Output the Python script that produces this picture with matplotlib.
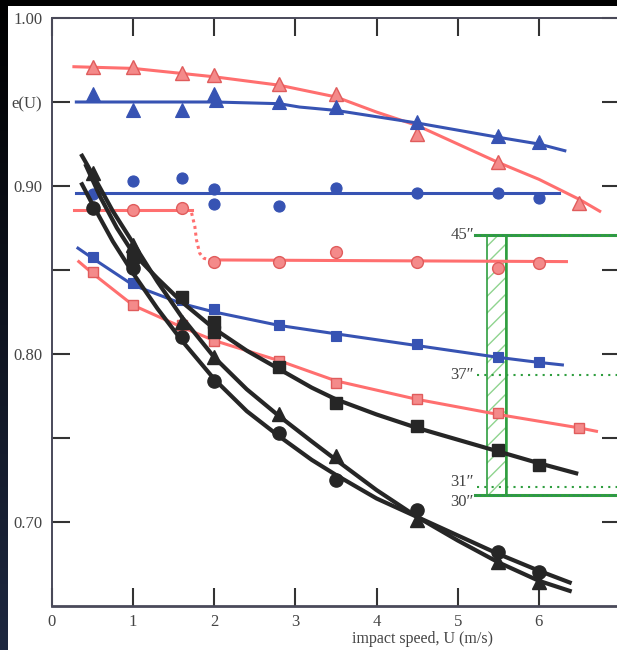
"""Restitution coefficient e(U) versus impact speed for several ball/surface sets."""

import matplotlib.pyplot as plt
import numpy as np
from matplotlib.patches import Rectangle

plt.rcParams["font.family"] = ["Liberation Serif", "DejaVu Serif"]

# measured points: impact speed (m/s) and e(U)
u_std = [0.5, 1.0, 1.6, 2.0, 2.8, 3.5, 4.5, 5.5, 6.0]
u_long = [0.5, 1.0, 1.6, 2.0, 2.8, 3.5, 4.5, 5.5, 6.5]

red_tri = [0.971, 0.971, 0.967, 0.966, 0.961, 0.955, 0.931, 0.914, 0.890]
blue_tri_u = [0.5, 1.0, 1.6, 2.0, 2.02, 2.8, 3.5, 4.5, 5.5, 6.0]
blue_tri = [0.955, 0.945, 0.945, 0.955, 0.951, 0.950, 0.947, 0.938, 0.930, 0.926]
blue_circ_u = [0.5, 1.0, 1.6, 2.0, 2.0, 2.8, 3.5, 4.5, 5.5, 6.0]
blue_circ = [0.895, 0.903, 0.905, 0.898, 0.889, 0.888, 0.899, 0.896, 0.896, 0.893]
red_circ = [0.887, 0.886, 0.887, 0.855, 0.855, 0.861, 0.855, 0.851, 0.854]
blue_sq = [0.858, 0.842, 0.832, 0.827, 0.817, 0.811, 0.806, 0.798, 0.795]
red_sq = [0.849, 0.829, 0.817, 0.808, 0.796, 0.783, 0.773, 0.765, 0.756]
black_sq_u = [1.0, 1.6, 2.0, 2.0, 2.8, 3.5, 4.5, 5.5, 6.0]
black_sq = [0.858, 0.834, 0.819, 0.813, 0.792, 0.771, 0.757, 0.743, 0.734]
black_tri = [0.908, 0.865, 0.819, 0.798, 0.764, 0.739, 0.701, 0.676, 0.664]
black_circ = [0.887, 0.851, 0.810, 0.784, 0.753, 0.725, 0.707, 0.682, 0.670]

# fitted curves, sampled along each trace
fit_red_tri_u = [0.27, 1.0, 2.0, 2.8, 3.5, 4.0, 4.5, 5.0, 5.5, 6.0, 6.5, 6.75]
fit_red_tri = [0.971, 0.970, 0.965, 0.960, 0.953, 0.944, 0.936, 0.925, 0.914, 0.904, 0.892, 0.885]
fit_blue_tri_u = [0.3, 1.0, 2.0, 2.8, 3.05, 3.5, 4.5, 5.5, 6.0, 6.32]
fit_blue_tri = [0.950, 0.950, 0.950, 0.949, 0.947, 0.945, 0.9375, 0.929, 0.925, 0.921]
fit_blue_circ_u = [0.3, 6.25]
fit_blue_circ = [0.896, 0.896]
fit_red_circ_hi_u = [0.27, 1.72]
fit_red_circ_hi = [0.886, 0.886]
fit_red_circ_step_u = [1.72, 1.76, 1.78, 1.82, 1.87, 1.95]
fit_red_circ_step = [0.884, 0.876, 0.868, 0.860, 0.857, 0.856]
fit_red_circ_lo_u = [1.95, 6.34]
fit_red_circ_lo = [0.856, 0.855]
fit_blue_sq_u = [0.32, 0.5, 1.0, 1.6, 2.0, 2.8, 3.5, 4.5, 5.5, 6.0, 6.29]
fit_blue_sq = [0.863, 0.857, 0.841, 0.830, 0.825, 0.817, 0.812, 0.805, 0.798, 0.795, 0.7935]
fit_red_sq_u = [0.33, 0.5, 1.0, 1.6, 2.0, 2.8, 3.5, 4.5, 5.5, 6.5, 6.71]
fit_red_sq = [0.855, 0.848, 0.829, 0.816, 0.808, 0.796, 0.784, 0.773, 0.764, 0.756, 0.754]
fit_black_sq_u = [0.42, 0.6, 0.8, 1.0, 1.3, 1.6, 2.0, 2.4, 2.8, 3.2, 3.5, 4.0, 4.5, 5.0, 5.5, 6.0, 6.46]
fit_black_sq = [0.912, 0.893, 0.875, 0.860, 0.845, 0.831, 0.815, 0.802, 0.791, 0.780, 0.773, 0.764, 0.756,
                0.749, 0.742, 0.735, 0.729]
fit_black_tri_u = [0.37, 0.5, 0.75, 1.0, 1.3, 1.6, 2.0, 2.4, 2.8, 3.2, 3.5, 4.0, 4.5, 5.0, 5.5, 6.0, 6.38]
fit_black_tri = [0.918, 0.907, 0.885, 0.866, 0.843, 0.822, 0.798, 0.779, 0.763, 0.748, 0.737, 0.719, 0.703,
                 0.689, 0.676, 0.665, 0.659]
fit_black_circ_u = [0.37, 0.5, 0.75, 1.0, 1.3, 1.6, 2.0, 2.4, 2.8, 3.2, 3.5, 4.0, 4.5, 5.0, 5.5, 6.0, 6.38]
fit_black_circ = [0.901, 0.889, 0.867, 0.848, 0.827, 0.808, 0.785, 0.766, 0.751, 0.737, 0.728, 0.714, 0.703,
                  0.692, 0.681, 0.671, 0.664]

# launch-angle bar on the right
bar_u = (5.36, 5.60)
angle_levels = [0.871, 0.7875, 0.721, 0.716]
angle_labels = ["45\u2033", "37\u2033", "31\u2033", "30\u2033"]

RED = "#ff6f6f"
RED_FACE = "#f48a8a"
RED_EDGE = "#e05c5c"
BLUE = "#3753b3"
BLACK = "#262626"
GREEN = "#2f9e3f"

fig = plt.figure(figsize=(6.17, 6.5), dpi=100)
fig.patch.set_facecolor("white")

ax = fig.add_axes([52 / 617, 1 - 606 / 650, (620 - 52) / 617, (606 - 18) / 650])
ax.set_xlim(0, 7)
ax.set_ylim(0.65, 1.0)

# colored fits and markers
ax.plot(fit_red_tri_u, fit_red_tri, color=RED, lw=2.2, zorder=2)
ax.plot(fit_blue_tri_u, fit_blue_tri, color=BLUE, lw=2.2, zorder=2)
ax.plot(fit_blue_circ_u, fit_blue_circ, color=BLUE, lw=2.2, zorder=2)
ax.plot(fit_red_circ_hi_u, fit_red_circ_hi, color=RED, lw=2.2, zorder=2)
ax.plot(fit_red_circ_step_u, fit_red_circ_step, color=RED, lw=2.2, ls=(0, (1, 1.2)), zorder=2)
ax.plot(fit_red_circ_lo_u, fit_red_circ_lo, color=RED, lw=2.2, zorder=2)
ax.plot(fit_blue_sq_u, fit_blue_sq, color=BLUE, lw=2.2, zorder=2)
ax.plot(fit_red_sq_u, fit_red_sq, color=RED, lw=2.2, zorder=2)

red_kw = dict(ls="none", mfc=RED_FACE, mec=RED_EDGE, mew=1.0, zorder=3)
blue_kw = dict(ls="none", mfc=BLUE, mec=BLUE, mew=0.8, zorder=3)
ax.plot(u_long, red_tri, marker="^", ms=10, **red_kw)
ax.plot(blue_tri_u, blue_tri, marker="^", ms=10, **blue_kw)
ax.plot(blue_circ_u, blue_circ, marker="o", ms=8, **blue_kw)
ax.plot(u_std, red_circ, marker="o", ms=8.5, **red_kw)
ax.plot(u_std, blue_sq, marker="s", ms=7.5, **blue_kw)
ax.plot(u_long, red_sq, marker="s", ms=7.5, **red_kw)

# black fits sit on top
ax.plot(fit_black_sq_u, fit_black_sq, color=BLACK, lw=3.0, zorder=4)
ax.plot(fit_black_tri_u, fit_black_tri, color=BLACK, lw=3.0, zorder=4)
ax.plot(fit_black_circ_u, fit_black_circ, color=BLACK, lw=3.0, zorder=4)
black_kw = dict(ls="none", mfc=BLACK, mec=BLACK, zorder=5)
ax.plot(black_sq_u, black_sq, marker="s", ms=8.5, **black_kw)
ax.plot(u_std, black_tri, marker="^", ms=10.5, **black_kw)
ax.plot(u_std, black_circ, marker="o", ms=9.5, **black_kw)

# hatched angle bar and its reference lines
top, dot37, dot31, bottom = angle_levels
ax.add_patch(Rectangle((bar_u[0], bottom), bar_u[1] - bar_u[0], top - bottom,
                       facecolor="none", edgecolor="#8fd48f", hatch="//", lw=0, zorder=1))
ax.add_patch(Rectangle((bar_u[0], bottom), bar_u[1] - bar_u[0], top - bottom,
                       facecolor="none", edgecolor=GREEN, lw=1.2, zorder=1.5))
ax.plot([bar_u[1], bar_u[1]], [bottom, top], color=GREEN, lw=1.8, zorder=1.5)
for level in (top, bottom):
    ax.plot([5.21, 7.0], [level, level], color=GREEN, lw=2.2, zorder=1.5)
    ax.plot([5.21, 7.0], [level, level], color=BLUE, lw=0.8, ls=(0, (1, 3)), alpha=0.5, zorder=1.6)
for level in (dot37, dot31):
    ax.plot([5.24, 7.0], [level, level], color=GREEN, lw=1.5, ls=(0, (1, 2.5)), zorder=1.5)
label_offsets = [0.0, 0.0, 0.003, -0.004]
for level, text, off in zip(angle_levels, angle_labels, label_offsets):
    ax.text(5.2, level + off, text, ha="right", va="center", fontsize=12, color="#444444")

# axes styling
for side in ("left", "top", "bottom", "right"):
    ax.spines[side].set_color("#4a4a5a")
    ax.spines[side].set_linewidth(1.4)
ax.spines["bottom"].set_linewidth(2.0)

ax.set_xticks(np.arange(0, 8))
ax.set_xticklabels(["0", "1", "2", "3", "4", "5", "6", ""])
ax.set_yticks([0.70, 0.75, 0.80, 0.85, 0.90, 0.95, 1.00])
ax.set_yticklabels(["0.70", "", "0.80", "", "0.90", "e(U)", "1.00"])
ax.tick_params(axis="both", direction="in", length=13, width=1.5, color="#333333",
               labelsize=12, labelcolor="#444444", top=True, right=True)
ax.tick_params(axis="y", pad=7)
ax.tick_params(axis="x", pad=6)

ax.set_xlabel("impact speed, U (m/s)", fontsize=11.5, color="#444444")
ax.xaxis.set_label_coords(4.56 / 7, -0.042)

# dark frame around the scanned page
left_strip = fig.add_axes([0, 0, 8 / 617, 1])
gradient = np.linspace(0, 1, 256).reshape(-1, 1)
left_strip.imshow(gradient, aspect="auto", cmap=plt.matplotlib.colors.LinearSegmentedColormap.from_list(
    "frame", ["#000000", "#1e2840"]), extent=(0, 1, 0, 1), origin="upper")
left_strip.set_axis_off()
fig.add_artist(Rectangle((0, 1 - 6 / 650), 1, 6 / 650, transform=fig.transFigure,
                         facecolor="black", edgecolor="none", zorder=10))

fig.savefig("out.png", dpi=100)
